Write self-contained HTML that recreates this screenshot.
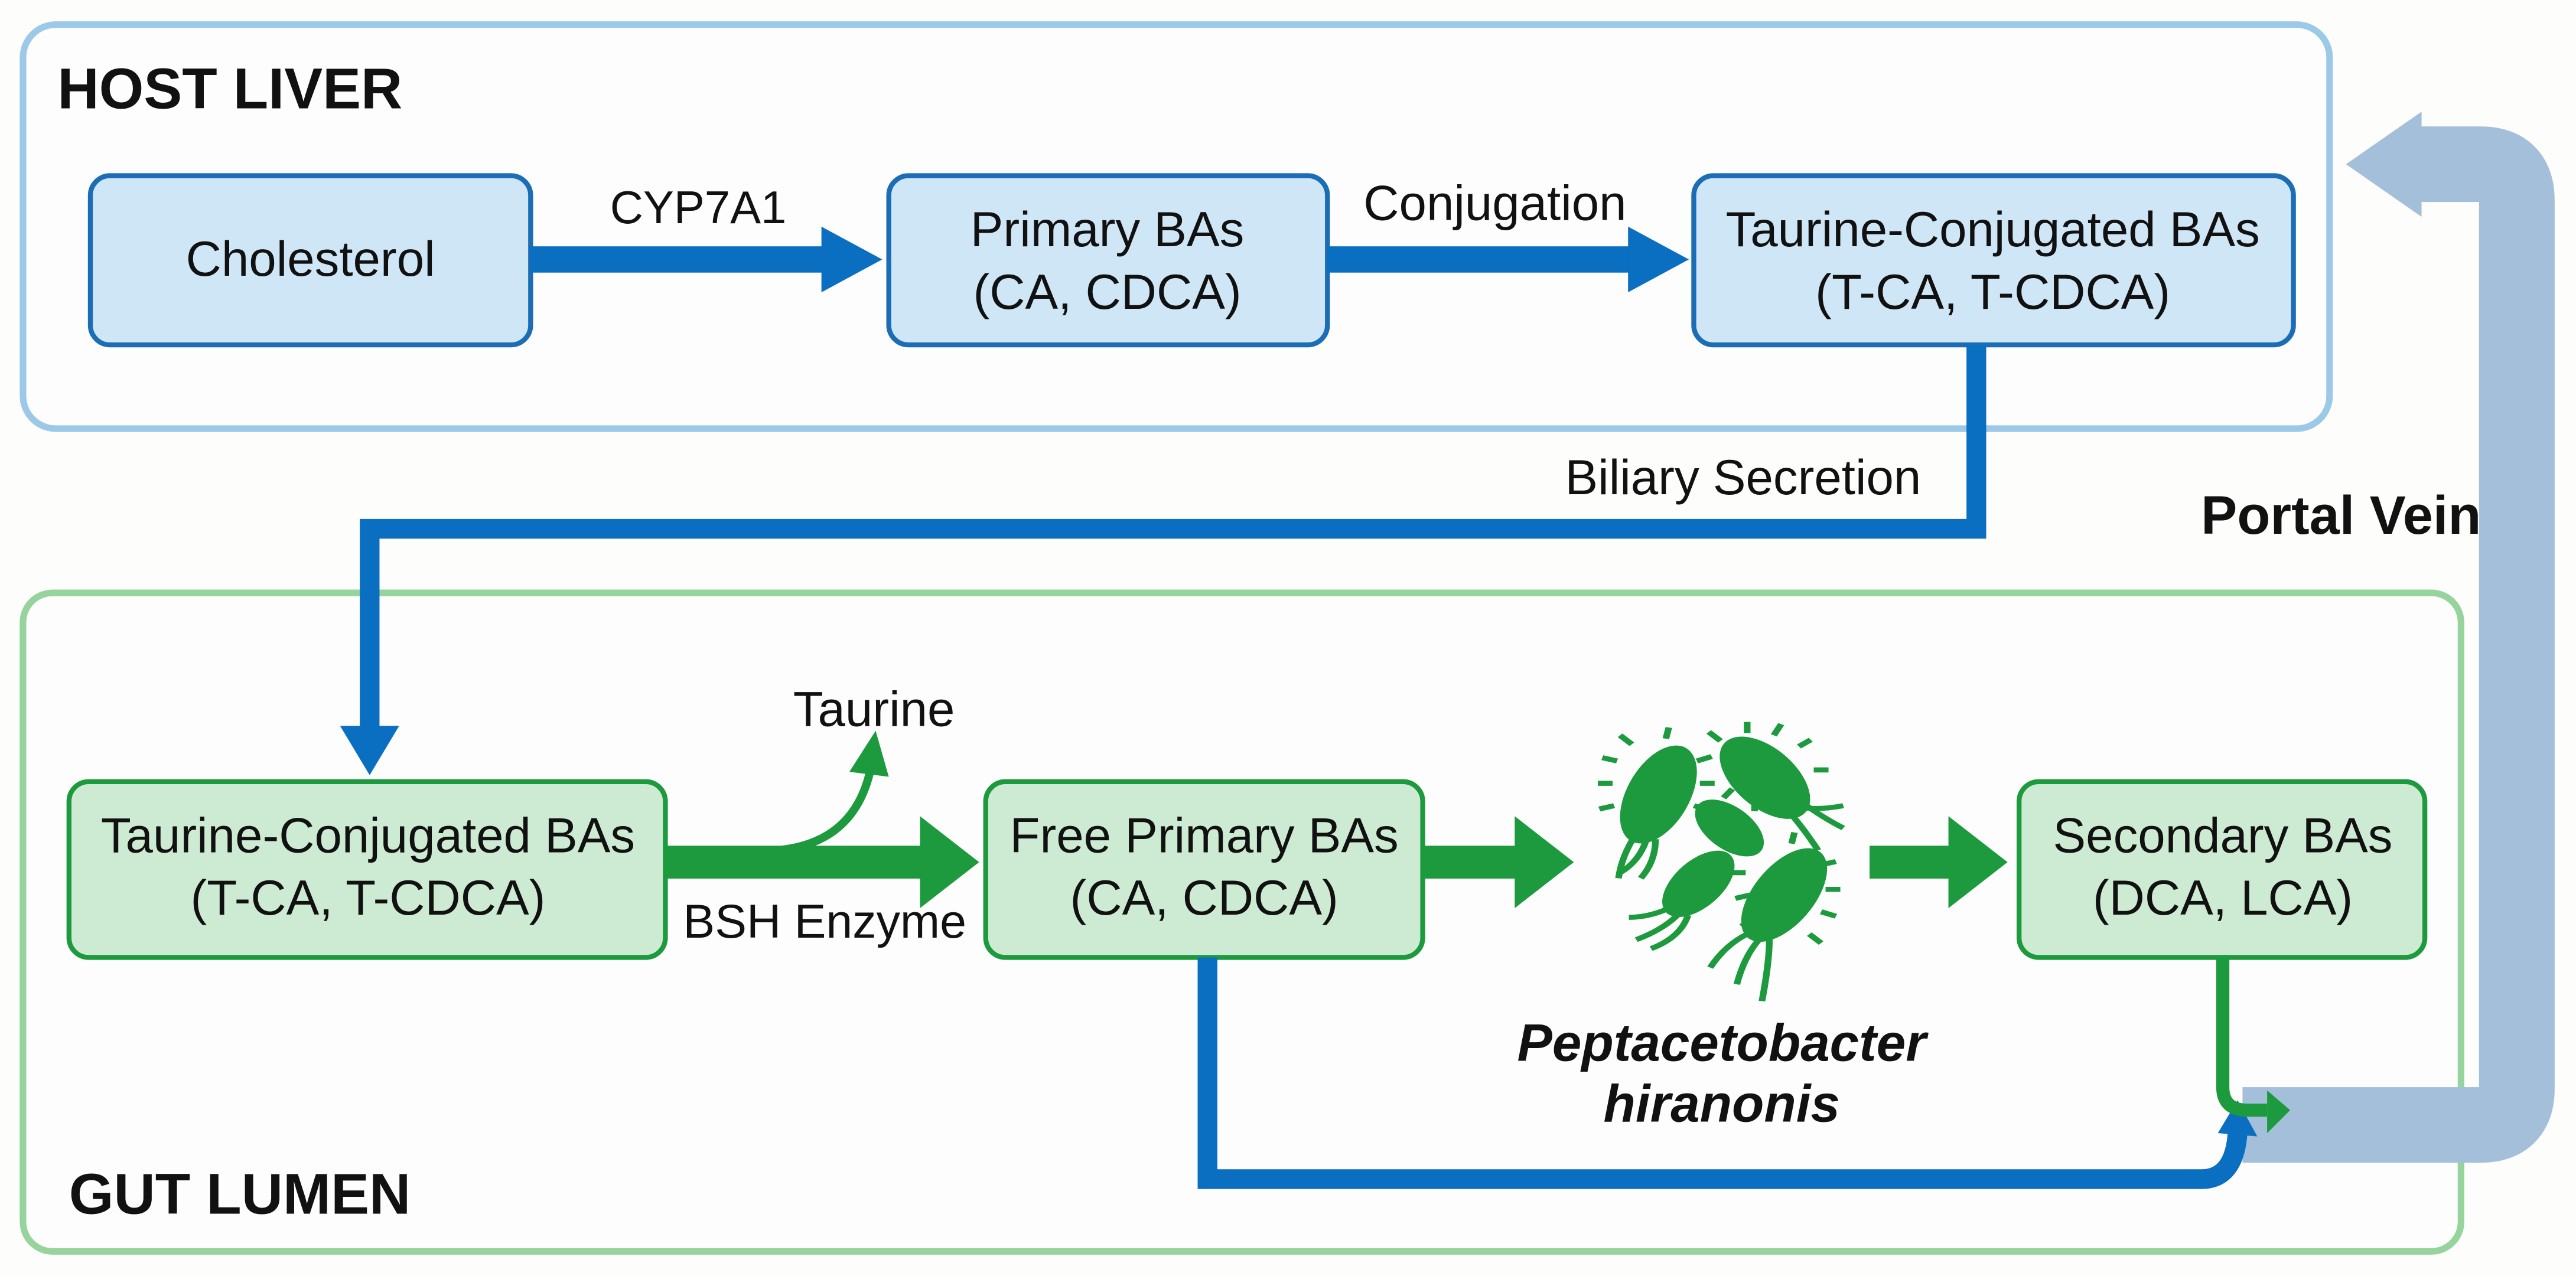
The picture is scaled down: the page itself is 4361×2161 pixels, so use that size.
<!DOCTYPE html>
<html><head><meta charset="utf-8"><style>
html,body{margin:0;padding:0;background:#fdfdfc;}
svg{display:block;}
text{font-family:"Liberation Sans",Arial,sans-serif;fill:#111;}
</style></head><body>
<svg width="4361" height="2161" viewBox="0 0 1568 777" preserveAspectRatio="none" xmlns="http://www.w3.org/2000/svg">
<rect x="0" y="0" width="1568" height="777" fill="#fdfdfc"/>
<rect x="14" y="15" width="1404" height="246" rx="20" fill="#fdfdfd" stroke="#9cc9e8" stroke-width="4"/>
<text x="35" y="66" font-size="35" font-weight="bold">HOST LIVER</text>
<rect x="14" y="361" width="1484" height="401" rx="18" fill="#fdfdfd" stroke="#96d39d" stroke-width="4"/>
<text x="42" y="739" font-size="35" font-weight="bold">GUT LUMEN</text>
<path d="M1365 685 H1510 Q1532 685 1532 663 V122 Q1532 100 1510 100 H1470" fill="none" stroke="#a4bfd9" stroke-width="46"/>
<polygon points="1428,100 1474,68 1474,132" fill="#a4bfd9"/>
<g fill="#cfe6f7" stroke="#1b6db5" stroke-width="3">
<rect x="55" y="107" width="268" height="103" rx="12"/>
<rect x="541" y="107" width="267" height="103" rx="12"/>
<rect x="1031" y="107" width="365" height="103" rx="12"/>
</g>
<g font-size="30" text-anchor="middle">
<text x="189" y="168">Cholesterol</text>
<text x="674" y="150">Primary BAs</text>
<text x="674" y="188">(CA, CDCA)</text>
<text x="1213" y="150">Taurine-Conjugated BAs</text>
<text x="1213" y="188">(T-CA, T-CDCA)</text>
<text x="425" y="136" font-size="28">CYP7A1</text>
<text x="910" y="134">Conjugation</text>
<text x="1061" y="301">Biliary Secretion</text>
</g>
<text x="1425" y="325" font-size="33" font-weight="bold" text-anchor="middle">Portal Vein</text>
<g fill="#0a6fc0">
<rect x="323" y="150" width="180" height="16"/>
<polygon points="500,138 537,158 500,178"/>
<rect x="808" y="150" width="186" height="16"/>
<polygon points="991,138 1028,158 991,178"/>
</g>
<path d="M1203 210 V322 H225 V445" fill="none" stroke="#0a6fc0" stroke-width="12"/>
<polygon points="207,442 243,442 225,472" fill="#0a6fc0"/>
<g fill="#cdebd3" stroke="#1d9a3d" stroke-width="3">
<rect x="42" y="476" width="363" height="107" rx="12"/>
<rect x="600" y="476" width="266" height="107" rx="12"/>
<rect x="1229" y="476" width="247" height="107" rx="12"/>
</g>
<g font-size="30" text-anchor="middle">
<text x="224" y="519">Taurine-Conjugated BAs</text>
<text x="224" y="557">(T-CA, T-CDCA)</text>
<text x="733" y="519">Free Primary BAs</text>
<text x="733" y="557">(CA, CDCA)</text>
<text x="1353" y="519">Secondary BAs</text>
<text x="1353" y="557">(DCA, LCA)</text>
<text x="532" y="442">Taurine</text>
<text x="502" y="571" font-size="29">BSH Enzyme</text>
</g>
<text font-size="32" font-weight="bold" font-style="italic" text-anchor="middle"><tspan x="1048" y="646">Peptacetobacter</tspan><tspan x="1048" y="683">hiranonis</tspan></text>
<g fill="#1d9a3d">
<rect x="405" y="515" width="160" height="20"/>
<polygon points="560,497 596,525 560,553"/>
<rect x="866" y="515" width="60" height="20"/>
<polygon points="922,497 958,525 922,553"/>
<rect x="1138" y="515" width="50" height="20"/>
<polygon points="1186,497 1222,525 1186,553"/>
</g>
<path d="M470 518 Q520 515 530 468" fill="none" stroke="#1d9a3d" stroke-width="5"/>
<polygon points="517,470 533,445 541,473" fill="#1d9a3d"/>
<path d="M735 583 V718 H1340 Q1360 718 1362 690" fill="none" stroke="#0a6fc0" stroke-width="12"/>
<polygon points="1350,690 1362,670 1374,692" fill="#0a6fc0"/>
<path d="M1353 583 V662 Q1353 676 1368 676 H1380" fill="none" stroke="#1d9a3d" stroke-width="8"/>
<polygon points="1380,664 1394,676 1380,690" fill="#1d9a3d"/>
<g fill="#1d9a3d" stroke="#1d9a3d" transform="translate(1050,443) scale(0.9,0.68) translate(-1045,-440)">
<ellipse cx="1000" cy="500" rx="22" ry="46" transform="rotate(20 1000 500)" stroke="none"/>
<ellipse cx="1072" cy="485" rx="23" ry="42" transform="rotate(-35 1072 485)" stroke="none"/>
<ellipse cx="1048" cy="530" rx="17" ry="30" transform="rotate(-40 1048 530)" stroke="none"/>
<ellipse cx="1027" cy="580" rx="18" ry="34" transform="rotate(35 1027 580)" stroke="none"/>
<ellipse cx="1085" cy="590" rx="22" ry="46" transform="rotate(28 1085 590)" stroke="none"/>
<g fill="none" stroke-width="4.5">
<path d="M985 535 q-10 20 -12 40 M992 540 q-5 20 -18 30 M998 540 q0 20 -10 35"/>
<path d="M1090 510 q15 5 35 0 M1095 505 q15 15 30 25 M1088 515 q10 15 20 35"/>
<path d="M1010 600 q-15 10 -30 10 M1015 605 q-10 15 -30 25 M1020 608 q-5 20 -25 30"/>
<path d="M1060 625 q-15 10 -25 30 M1068 630 q-10 15 -15 40 M1075 630 q0 20 -5 55"/>
<path d="M972 470 l-10 -3 M969 490 l-10 0 M970 510 l-10 3 M982 455 l-8 -8 M1005 450 l2 -10 M1026 470 l10 -4 M1028 490 l10 0 M1024 510 l10 4"/>
<path d="M1042 452 l-8 -8 M1060 445 l0 -10 M1078 447 l5 -10 M1095 457 l8 -6 M1105 478 l10 0 M1050 495 l-6 8 M1065 505 l0 10 M1080 510 l4 10"/>
<path d="M1059 570 l-10 0 M1062 590 l-10 3 M1064 612 l-8 6 M1090 544 l2 -10 M1110 563 l10 -3 M1113 585 l10 0 M1110 605 l10 4 M1102 625 l8 8"/>
</g>
</g>
</svg>
</body></html>
